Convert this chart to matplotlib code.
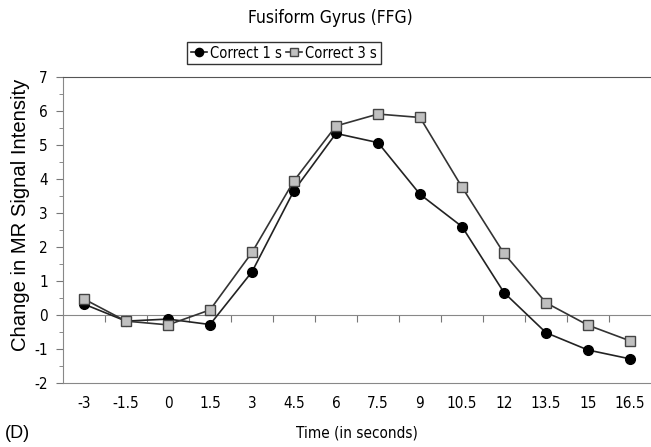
import matplotlib.pyplot as plt
from matplotlib.ticker import MultipleLocator, FixedLocator, NullFormatter

plt.rcParams['font.family'] = ['DejaVu Sans']
plt.rcParams['font.stretch'] = 'condensed'
plt.rcParams['axes.unicode_minus'] = False

# data
times = ['-3', '-1.5', '0', '1.5', '3', '4.5', '6', '7.5', '9', '10.5', '12', '13.5', '15', '16.5']
correct_1s = [0.32, -0.18, -0.12, -0.28, 1.27, 3.66, 5.34, 5.07, 3.55, 2.60, 0.66, -0.52, -1.03, -1.29]
correct_3s = [0.47, -0.18, -0.29, 0.15, 1.84, 3.95, 5.56, 5.91, 5.81, 3.76, 1.81, 0.36, -0.30, -0.76]

fig = plt.figure(figsize=(6.51, 4.47), dpi=100)
ax = fig.add_axes([63 / 651, 1 - 383 / 447, 1 - 63 / 651, (383 - 77) / 447])

x = list(range(len(times)))
ax.plot(x, correct_1s, color='#222222', lw=1.2, marker='o', ms=7,
        mfc='black', mec='black', label='Correct 1 s')
ax.plot(x, correct_3s, color='#333333', lw=1.2, marker='s', ms=6.5,
        mfc='#c0c0c0', mec='#444444', mew=1, label='Correct 3 s')

ax.set_xlim(-0.5, len(times) - 0.5)
ax.set_ylim(-2, 7)

# y axis
ax.yaxis.set_major_locator(MultipleLocator(1))
ax.yaxis.set_minor_locator(MultipleLocator(0.5))
ax.tick_params(axis='y', which='major', length=5, color='#777777', labelsize=11, pad=6)
ax.tick_params(axis='y', which='minor', length=3, color='#777777')
ax.set_ylabel('Change in MR Signal Intensity', fontsize=14.6, stretch='normal',
              family=['Liberation Sans', 'DejaVu Sans'])
ax.yaxis.set_label_coords(-0.056, 0.55)

# x labels sit at the bottom of the plot
ax.set_xticks(x)
ax.set_xticklabels(times)
ax.tick_params(axis='x', which='major', length=0, labelsize=11, pad=9)
ax.set_xlabel('Time (in seconds)', fontsize=11, labelpad=11)

for side in ['left', 'bottom', 'top']:
    ax.spines[side].set_color('#888888')
ax.spines['top'].set_color('#555555')
ax.spines['right'].set_visible(False)

# zero line with category boundary ticks
zero_ax = ax.secondary_xaxis(2 / 9)
zero_ax.xaxis.set_major_locator(FixedLocator([i + 0.5 for i in x[:-1]]))
zero_ax.xaxis.set_major_formatter(NullFormatter())
zero_ax.tick_params(length=5, color='#777777')
zero_ax.spines['bottom'].set_color('#888888')

fig.text(330 / 651, 1 - 18 / 447, 'Fusiform Gyrus (FFG)', ha='center', va='center', fontsize=12.5)
fig.text(5 / 651, 1 - 433 / 447, '(D)', ha='left', va='center', fontsize=13,
         stretch='normal', family=['Liberation Sans', 'DejaVu Sans'])

leg = fig.legend(loc='center', bbox_to_anchor=(284 / 651, 1 - 53 / 447), ncol=2,
                 fontsize=10.5, frameon=True, fancybox=False, handlelength=1.1,
                 markerscale=0.85, handletextpad=0.2, columnspacing=0.3,
                 borderpad=0.25, borderaxespad=0)
leg.get_frame().set_edgecolor('black')
leg.get_frame().set_linewidth(1)

fig.savefig('out.png', dpi=100)
plt.close(fig)
